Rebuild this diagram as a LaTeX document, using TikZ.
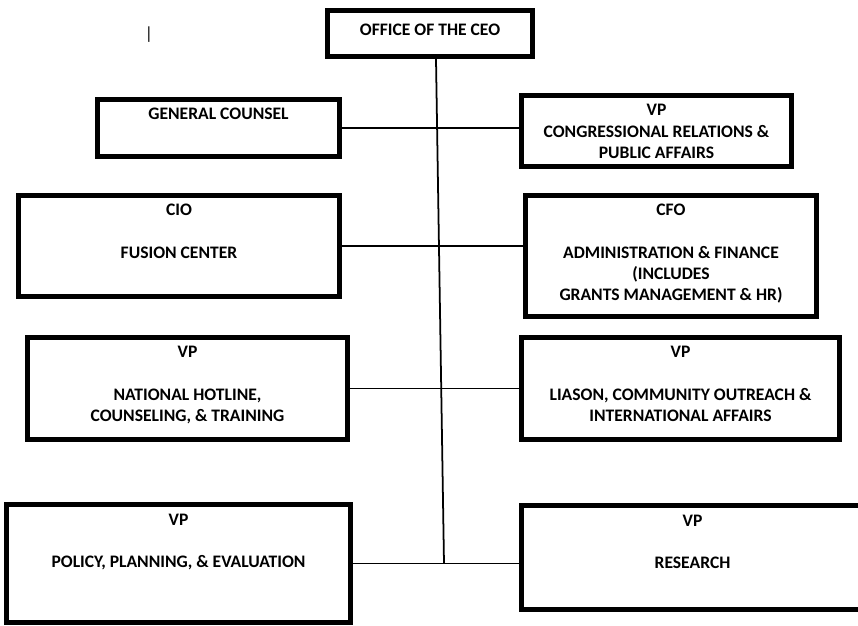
\documentclass[tikz,border=0pt]{standalone}
\usepackage{fontspec}
\setmainfont{Carlito}

% intitulé d'un poste, aligné sur sa première ligne
\newcommand{\intitule}[1]{\begin{tabular}[t]{@{}c@{}}#1\end{tabular}}

\tikzset{
  poste/.style={draw, line width=0.15cm, anchor=north,
    inner xsep=0pt, inner ysep=0pt, text height=0.615cm,
    font=\bfseries\fontsize{15}{18}\selectfont},
  lien/.style={line width=1.5pt}
}

\begin{document}
\begin{tikzpicture}[x=0.03cm, y=-0.03cm]
    \useasboundingbox (0,0) rectangle (858,626);

    % Direction générale
    \node[poste, minimum width=6.15cm, text height=0.765cm, text depth=0.615cm] (ceo) at (430,8) {OFFICE OF THE CEO};
    \node[font=\fontsize{15}{18}\selectfont] (curseur) at (149,35) {|};

    % Colonne de gauche
    \node[poste, minimum width=7.26cm, text depth=1.095cm] (conseil) at (218.5,97) {\intitule{GENERAL COUNSEL}};
    \node[poste, minimum width=9.63cm, text depth=2.415cm] (cio) at (179,193) {\intitule{CIO\\[18pt] FUSION CENTER}};
    \node[poste, minimum width=9.6cm, text depth=2.445cm] (ligne) at (187.5,335) {\intitule{VP\\[18pt] NATIONAL HOTLINE,\\ COUNSELING, \& TRAINING}};
    \node[poste, minimum width=10.32cm, text depth=2.925cm] (politique) at (178.5,502) {\intitule{VP\\[18pt] POLICY, PLANNING, \& EVALUATION}};

    % Colonne de droite
    \node[poste, minimum width=8.1cm, text depth=1.515cm] (congres) at (656.5,93) {\intitule{VP\\ CONGRESSIONAL RELATIONS \&\\ PUBLIC AFFAIRS}};
    \node[poste, minimum width=8.73cm, text depth=3.015cm] (cfo) at (671,193) {\intitule{CFO\\[18pt] ADMINISTRATION \& FINANCE\\ (INCLUDES\\ GRANTS MANAGEMENT \& HR)}};
    \node[poste, minimum width=9.54cm, text depth=2.445cm] (liaison) at (680.5,335) {\intitule{VP\\[18pt] LIASON, COMMUNITY OUTREACH \&\\ INTERNATIONAL AFFAIRS}};
    \node[poste, minimum width=10.26cm, text depth=2.505cm] (recherche) at (692.5,503) {\intitule{VP\\[18pt] RESEARCH}};

    % Tronc vertical et liaisons horizontales
    \coordinate (tronc) at (444,563.5);
    \draw[lien] ([xshift=0.18cm]ceo.south) -- (tronc);
    \draw[lien] (conseil.east) -- (conseil.east -| congres.west);
    \draw[lien] (cio.east) -- (cio.east -| cfo.west);
    \draw[lien] (ligne.east) -- (ligne.east -| liaison.west);
    \draw[lien] (politique.east) -- (politique.east -| recherche.west);
\end{tikzpicture}
\end{document}
